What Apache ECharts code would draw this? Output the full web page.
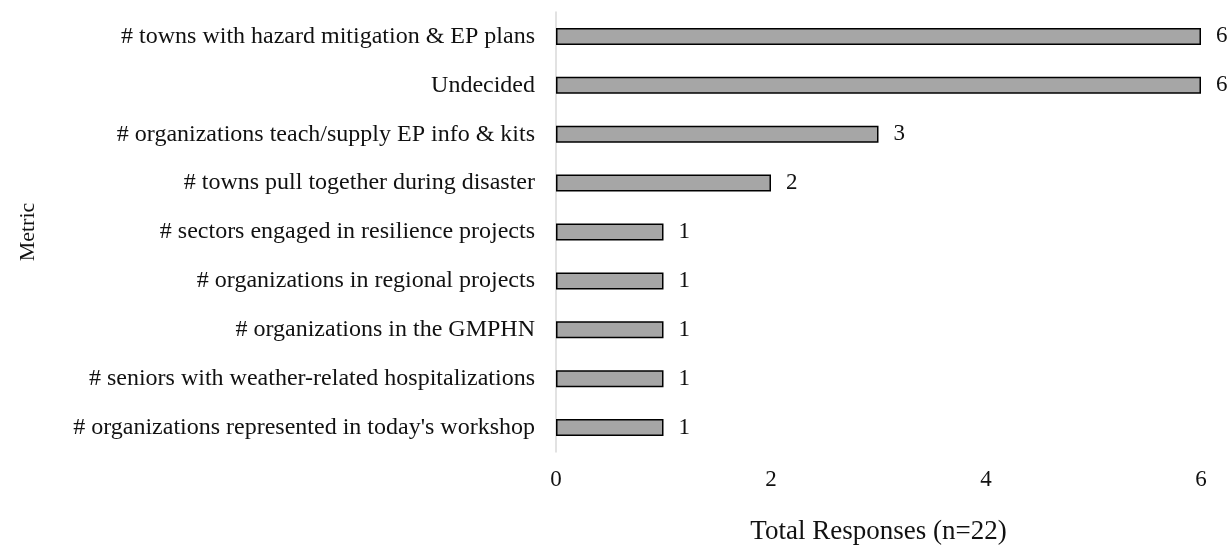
<!DOCTYPE html>
<html>
<head>
<meta charset="utf-8">
<title>Total Responses</title>
<script src="https://cdn.jsdelivr.net/npm/echarts@6/dist/echarts.min.js"></script>
<style>
  html, body { margin: 0; padding: 0; background: #fff; }
  #main { width: 1230px; height: 550px; }
</style>
</head>
<body>
<div id="main"></div>
<script>
  // categories top to bottom, as in the picture
  var metrics = [
    '# towns with hazard mitigation & EP plans',
    'Undecided',
    '# organizations teach/supply EP info & kits',
    '# towns pull together during disaster',
    '# sectors engaged in resilience projects',
    '# organizations in regional projects',
    '# organizations in the GMPHN',
    '# seniors with weather-related hospitalizations',
    "# organizations represented in today's workshop"
  ];
  var responses = [6, 6, 3, 2, 1, 1, 1, 1, 1];
  var xTicks = [0, 2, 4, 6];

  var font = '"Liberation Serif", "Times New Roman", serif';

  var myChart = echarts.init(document.getElementById('main'));
  myChart.setOption({
    animation: false,
    textStyle: { fontFamily: font },
    grid: { left: 556, right: 29, top: 12, bottom: 90, containLabel: false },
    xAxis: {
      type: 'value',
      min: xTicks[0],
      max: xTicks[xTicks.length - 1],
      interval: xTicks[1] - xTicks[0],
      name: 'Total Responses (n=22)',
      nameLocation: 'middle',
      nameGap: 66,
      nameTextStyle: { fontFamily: font, fontSize: 27, color: '#111' },
      axisLine: { show: false },
      axisTick: { show: false },
      splitLine: { show: false },
      axisLabel: { fontFamily: font, fontSize: 23, color: '#111', margin: 16 }
    },
    yAxis: {
      type: 'category',
      inverse: true,
      data: metrics,
      name: 'Metric',
      nameLocation: 'middle',
      nameGap: 517,
      nameRotate: 90,
      nameTextStyle: { fontFamily: font, fontSize: 22, color: '#111' },
      axisLine: { show: true, lineStyle: { color: '#d9d9d9', width: 1.5 } },
      axisTick: { show: false },
      axisLabel: { fontFamily: font, fontSize: 24, color: '#111', margin: 21 }
    },
    series: [
      {
        name: 'Total Responses',
        type: 'bar',
        data: responses,
        barWidth: 17,
        itemStyle: { color: '#a6a6a6', borderColor: '#000', borderWidth: 1.5 },
        label: {
          show: true,
          position: 'right',
          distance: 15,
          fontFamily: font,
          fontSize: 23,
          color: '#111'
        }
      }
    ]
  });
</script>
</body>
</html>
